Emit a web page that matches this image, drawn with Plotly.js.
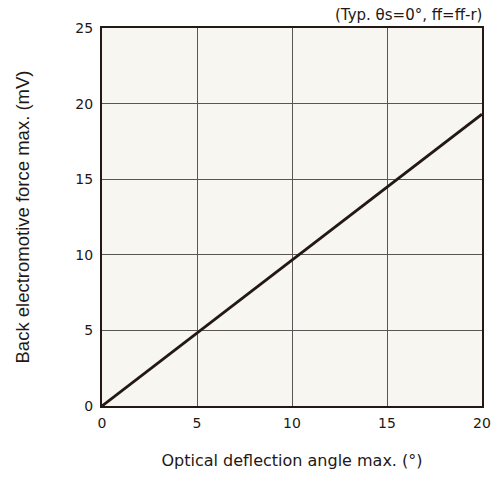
<!DOCTYPE html>
<html>
<head>
<meta charset="utf-8">
<script src="https://cdn.plot.ly/plotly-3.0.1.min.js"></script>
<style>html,body{margin:0;padding:0;background:#fff;}#chart{width:492px;height:477px;}</style>
</head>
<body>
<div id="chart"></div>
<script>
const angleDeg = [0, 5, 10, 15, 20];
const backEmf = [0, 4.83, 9.65, 14.48, 19.3];
const xTicks = [0, 5, 10, 15, 20];
const yTicks = [0, 5, 10, 15, 20, 25];
const noteText = "(Typ. θs=0°, ff=ff-r)";
const xTitle = "Optical deflection angle max. (°)";
const yTitle = "Back electromotive force max. (mV)";

const trace = {
  x: angleDeg, y: backEmf, type: 'scatter', mode: 'lines',
  line: {color: '#231815', width: 2.8}, hoverinfo: 'skip'
};
const layout = {
  width: 492, height: 477,
  margin: {l: 102, r: 10, t: 28, b: 71},
  paper_bgcolor: '#ffffff', plot_bgcolor: '#f7f6f0',
  showlegend: false,
  font: {family: 'DejaVu Sans, Verdana, sans-serif', size: 12, color: '#231815'},
  xaxis: {
    range: [0, 20], tickvals: xTicks, ticktext: xTicks.map(String),
    showgrid: true, gridcolor: '#5a5552', gridwidth: 1,
    showline: true, linecolor: '#231815', linewidth: 2, mirror: true,
    zeroline: false, ticks: '', ticklabelstandoff: 3,
    tickfont: {size: 14},
    title: {text: xTitle, font: {size: 16}, standoff: 25}
  },
  yaxis: {
    range: [0, 25], tickvals: yTicks, ticktext: yTicks.map(String),
    showgrid: true, gridcolor: '#5a5552', gridwidth: 1,
    showline: true, linecolor: '#231815', linewidth: 2, mirror: true,
    zeroline: false, ticks: '', ticklabelstandoff: 4,
    tickfont: {size: 14},
    title: {text: yTitle, font: {size: 18.5, family: 'Liberation Sans, Arial, sans-serif'}, standoff: 41}
  },
  annotations: [{
    text: noteText, xref: 'paper', yref: 'paper', x: 1, y: 1,
    xanchor: 'right', yanchor: 'bottom', showarrow: false, yshift: 2, xshift: 2,
    font: {size: 15}
  }]
};
Plotly.newPlot('chart', [trace], layout, {staticPlot: true, displayModeBar: false});
</script>
</body>
</html>
